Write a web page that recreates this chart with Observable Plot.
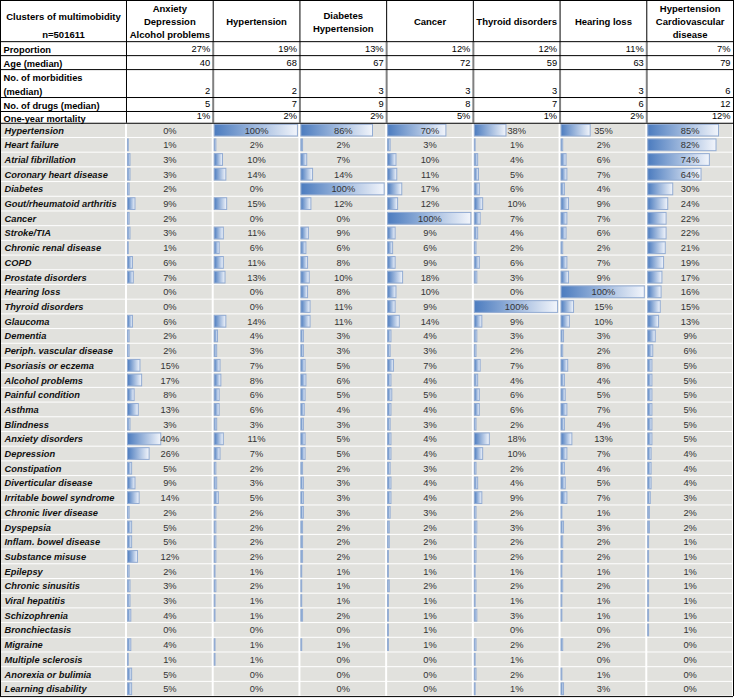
<!DOCTYPE html>
<html>
<head>
<meta charset="utf-8">
<script src="https://cdn.jsdelivr.net/npm/d3@7"></script>
<script src="https://cdn.jsdelivr.net/npm/@observablehq/plot@0.6"></script>
<style>
  html, body { margin: 0; padding: 0; background: #fff; }
  #chart svg { display: block; }
</style>
</head>
<body>
<div id="chart"></div>
<script>
// ---------------- DATA ----------------
const headerLabel = "Clusters of multimobidity\nn=501611";
const clusterNames = [
  "Anxiety\nDepression\nAlcohol problems",
  "Hypertension",
  "Diabetes\nHypertension",
  "Cancer",
  "Thyroid disorders",
  "Hearing loss",
  "Hypertension\nCardiovascular\ndisease"
];
const statLabels = ["Proportion", "Age (median)", "No. of morbidities\n(median)", "No. of drugs (median)", "One-year mortality"];
const proportion = [27, 19, 13, 12, 12, 11, 7];
const ageMedian = [40, 68, 67, 72, 59, 63, 79];
const morbiditiesMedian = [2, 2, 3, 3, 3, 3, 6];
const drugsMedian = [5, 7, 9, 8, 7, 6, 12];
const oneYearMortality = [1, 2, 2, 5, 1, 2, 12];

const conditions = [
  "Hypertension", "Heart failure", "Atrial fibrillation", "Coronary heart disease", "Diabetes",
  "Gout/rheumatoid arthritis", "Cancer", "Stroke/TIA", "Chronic renal disease", "COPD",
  "Prostate disorders", "Hearing loss", "Thyroid disorders", "Glaucoma", "Dementia",
  "Periph. vascular disease", "Psoriasis or eczema", "Alcohol problems", "Painful condition", "Asthma",
  "Blindness", "Anxiety disorders", "Depression", "Constipation", "Diverticular disease",
  "Irritable bowel syndrome", "Chronic liver disease", "Dyspepsia", "Inflam. bowel disease", "Substance misuse",
  "Epilepsy", "Chronic sinusitis", "Viral hepatitis", "Schizophrenia", "Bronchiectasis",
  "Migraine", "Multiple sclerosis", "Anorexia or bulimia", "Learning disability"
];
const anxietyDepressionAlcohol = [0,1,3,3,2,9,2,3,1,6,7,0,0,6,2,2,15,17,8,13,3,40,26,5,9,14,2,5,5,12,2,3,3,4,0,4,1,5,5];
const hypertensionCluster     = [100,2,10,14,0,15,0,11,6,11,13,0,0,14,4,3,7,8,6,6,3,11,7,2,3,5,2,2,2,2,1,2,1,1,0,1,1,0,0];
const diabetesHypertension    = [86,2,7,14,100,12,0,9,6,8,10,8,11,11,3,3,5,6,5,4,3,5,5,2,3,3,3,2,2,2,1,1,1,2,0,1,0,0,0];
const cancerCluster           = [70,3,10,11,17,12,100,9,6,9,18,10,9,14,4,3,7,4,5,4,3,4,4,3,4,4,3,2,2,1,1,2,1,1,1,1,0,0,0];
const thyroidCluster          = [38,1,4,5,6,10,7,4,2,6,3,0,100,9,3,2,7,4,6,6,2,18,10,2,4,9,2,3,2,2,1,2,1,3,0,2,1,2,1];
const hearingLossCluster      = [35,2,6,7,4,9,7,6,2,7,9,100,15,10,3,2,8,4,5,7,4,13,7,4,5,7,1,3,2,2,1,2,1,1,0,2,0,1,3];
const hypertensionCardio      = [85,82,74,64,30,24,22,22,21,19,17,16,15,13,9,6,5,5,5,5,5,5,4,4,4,3,2,2,1,1,1,1,1,1,1,0,0,0,0];

// ---------------- LAYOUT (row / column units) ----------------
const clusterCols = [anxietyDepressionAlcohol, hypertensionCluster, diabetesHypertension, cancerCluster, thyroidCluster, hearingLossCluster, hypertensionCardio];
const nCols = clusterNames.length;
const labelW = 1.453;            // label column width in data-column units
const xLeft = -labelW;
const headerH = 2.8;
const statH = [0.95, 0.95, 1.9, 0.95, 0.8];
const statTops = [];
{ let t = headerH; for (const h of statH) { statTops.push(t); t += h; } }
const bodyTop = headerH + d3.sum(statH);
const bodyBottom = bodyTop + conditions.length;

const statValues = [proportion, ageMedian, morbiditiesMedian, drugsMedian, oneYearMortality];
const statFmt = [v => v + "%", v => String(v), v => String(v), v => String(v), v => v + "%"];

const statRows = statLabels.map((label, r) => ({label, y1: statTops[r], y2: statTops[r] + statH[r]}));
const statCells = [];
statValues.forEach((arr, r) => arr.forEach((v, c) => statCells.push({c, r, text: statFmt[r](v), y: statTops[r] + statH[r] - 0.475})));

const cells = [];
conditions.forEach((name, i) => {
  cells.push({x1: xLeft, x2: 0, i});
  for (let c = 0; c < nCols; c++) cells.push({x1: c, x2: c + 1, i});
});
const values = [];
clusterCols.forEach((arr, c) => arr.forEach((v, i) => values.push({c, i, v})));

const hLines = [0, headerH, ...statTops.slice(1), bodyTop, bodyBottom];
const colDividers = d3.range(1, nCols);

const font = "'Liberation Sans', Arial, Helvetica, sans-serif";

const svg = Plot.plot({
  width: 734,
  height: 698,
  marginTop: 0, marginLeft: 0, marginRight: 1, marginBottom: 0,
  x: {domain: [xLeft, nCols], axis: null},
  y: {domain: [0, 47.48], reverse: true, axis: null},
  style: {fontFamily: font, background: "#fff"},
  marks: [
    // grey body cells with white gaps
    Plot.rect(cells, {x1: "x1", x2: "x2", y1: d => bodyTop + d.i, y2: d => bodyTop + d.i + 1,
      fill: "#e1e1dd", insetLeft: 1, insetRight: 1, insetTop: 0.5, insetBottom: 0.5}),
    // bars
    Plot.rect(values.filter(d => d.v > 0), {
      x1: d => d.c + 0.017, x2: d => d.c + 0.017 + d.v / 100 * 0.96,
      y1: d => bodyTop + d.i + 0.1, y2: d => bodyTop + d.i + 0.9,
      fill: "url(#barGrad)", stroke: "#93acd3", strokeWidth: 1}),
    // value labels
    Plot.text(values, {x: d => d.c + 0.5, y: d => bodyTop + d.i + 0.5, text: d => d.v + "%",
      fontSize: 9.3, fill: "#333"}),
    // condition labels
    Plot.text(conditions, {x: xLeft, y: (d, i) => bodyTop + i + 0.5, text: d => d, dx: 4,
      textAnchor: "start", fontSize: 9.3, fontWeight: "bold", fontStyle: "italic", fill: "#111"}),
    // stats section verticals
    Plot.ruleX(colDividers, {x: d => d, y1: headerH, y2: bodyTop, stroke: "#808080", strokeWidth: 2}),
    Plot.ruleX(colDividers, {x: d => d, y1: 0, y2: headerH, stroke: "#000", strokeWidth: 1}),
    Plot.ruleX([0], {y1: 0, y2: bodyTop, stroke: "#000"}),
    // horizontal rules
    Plot.ruleY(hLines, {x1: xLeft, x2: nCols, stroke: "#000"}),
    // outer border verticals
    Plot.ruleX([xLeft, nCols], {y1: 0, y2: bodyBottom, stroke: "#000"}),
    // header texts
    Plot.text([headerLabel], {x: xLeft / 2, y: headerH / 2, text: d => d, dy: 2.5, lineHeight: 1.85,
      fontSize: 9.5, fontWeight: "bold", fill: "#000"}),
    Plot.text(clusterNames, {x: (d, i) => i + 0.5, y: headerH / 2, text: d => d, lineHeight: 1.37,
      fontSize: 9.5, fontWeight: "bold", fill: "#000"}),
    // stat labels
    Plot.text(statRows, {x: xLeft, y: d => (d.y1 + d.y2) / 2, text: "label", dx: 3, textAnchor: "start",
      lineHeight: 1.5, fontSize: 9.3, fontWeight: "bold", fill: "#000"}),
    // stat values
    Plot.text(statCells, {x: d => d.c + 1, y: "y", text: "text", dx: -3, textAnchor: "end",
      fontSize: 9.3, fill: "#000"})
  ]
});

const defs = d3.select(svg).insert("defs", ":first-child");
const grad = defs.append("linearGradient").attr("id", "barGrad")
  .attr("x1", "0").attr("x2", "1").attr("y1", "0").attr("y2", "0");
grad.append("stop").attr("offset", "0%").attr("stop-color", "#4c7cbf");
grad.append("stop").attr("offset", "100%").attr("stop-color", "#f2f5fb");

document.getElementById("chart").appendChild(svg);
</script>
</body>
</html>
